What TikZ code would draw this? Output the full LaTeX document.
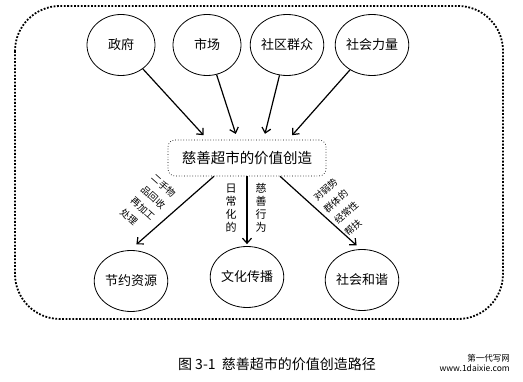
\documentclass[tikz,border=0pt]{standalone}
\usepackage{fontspec}
\setmainfont{Noto Sans CJK SC}
\usetikzlibrary{shapes.geometric,arrows.meta}
\begin{document}
\begin{tikzpicture}[x=1pt,y=-1pt,
  goal/.style={draw,ellipse,line width=0.8pt,inner sep=0pt,minimum width=68pt,minimum height=61pt,font=\fontsize{13}{15}\selectfont},
  flow/.style={line width=1.2pt,-{Straight Barb[length=5pt,width=9pt,line width=1.2pt]}},
  note/.style={font=\fontsize{9.5}{15.5}\selectfont,align=left,inner sep=0pt},
  vnote/.style={font=\fontsize{11}{13}\selectfont,align=center,inner sep=0pt}]
\useasboundingbox (0,0) rectangle (523,382);
% frame
\draw[line width=1.8pt,dash pattern=on 1.8pt off 1.6pt,rounded corners=45pt] (15,6) rectangle (503,319);
% actors
\node[goal] (zf) at (121,45) {政府};
\node[goal] (sc) at (207,45) {市场};
\node[goal] (sq) at (287,45) {社区群众};
\node[goal] (sh) at (372,45) {社会力量};
% centre
\node[draw,dotted,line width=0.7pt,rounded corners=7pt,minimum width=158pt,minimum height=36pt,
  font=\fontsize{14.5}{16}\selectfont] (box) at (247,158) {慈善超市的价值创造};
\draw[flow,shorten >=6pt] (zf) -- (box.155);
\draw[flow,shorten >=6pt] (sc) -- (box.117);
\draw[flow,shorten >=6pt] (sq) -- (box.48);
\draw[flow,shorten >=6pt] (sh) -- (box.24);
% outcomes
\node[goal] (jy) at (131,281) {节约资源};
\node[goal] (wh) at (247,277) {文化传播};
\node[goal] (hx) at (362,280) {社会和谐};
\draw[flow] (box.209) -- ([yshift=6pt]jy.80);
\draw[flow,shorten >=2pt] (box.south) -- (wh.north);
\draw[flow] (box.331) -- ([yshift=4pt]hx.100);
\node[note,rotate=-42] (l1) at (148,203) {二手物\\品回收\\再加工\\处理};
\node[vnote] (l2) at (231,208) {日\\常\\化\\的};
\node[vnote] (l3) at (261,208) {慈\\善\\行\\为};
\node[note,rotate=42] (l4) at (341,207) {对弱势\\群体的\\经常性\\帮扶};
% caption
\node[font=\fontsize{14}{16}\selectfont] (cap) at (277,364) {图 3-1\ \ 慈善超市的价值创造路径};
\node[font=\fontsize{8.5}{10}\selectfont,align=right,anchor=east,inner sep=0pt] (wm) at (510,363) {第一代写网\\www.1daixie.com};
\end{tikzpicture}
\end{document}
